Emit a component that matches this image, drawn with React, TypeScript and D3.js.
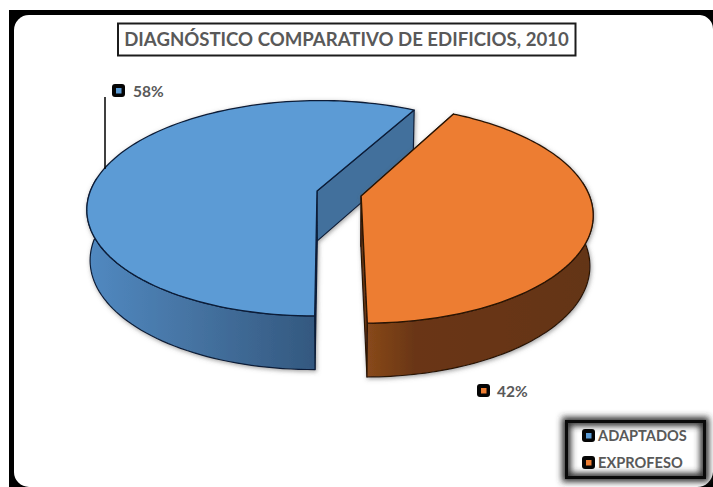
import React from "react";
import * as d3 from "d3";

// Share of buildings by origin, 2010
const chartTitle = "DIAGNÓSTICO COMPARATIVO DE EDIFICIOS, 2010";
const categories = ["ADAPTADOS", "EXPROFESO"];
const shares = [58, 42];

const topColors = ["#5b9bd5", "#ed7d31"];
const edgeColors = ["#0b1d38", "#2a1405"];
const cutColors = ["#436f9c", "#6b3814"];
const FONT = "Lato, 'Open Sans', sans-serif";
const TEXT = "#595959";

const WIDTH = 713;
const HEIGHT = 487;

// Perspective model of the tilted disc
const CX = 339;
const CY = 193.5;
const RADIUS = 227.5;
const TILT = 105.7;
const VANISH = 0.161;
const EXPLODE = 0.1;
const DEPTH = 50;
const FLOOR_X = 0.987;
const FLOOR_Y = 1.03;
const ROTATION = -0.007;

type Offset = { ex: number; ey: number };

const project = (X: number, Y: number, floor: boolean) => {
  const w = 1 + VANISH * Y;
  const x = (RADIUS * X) / w;
  const y = (-TILT * Y) / w;
  return floor
    ? ([CX + x * FLOOR_X, CY + y * FLOOR_Y + DEPTH] as [number, number])
    : ([CX + x, CY + y] as [number, number]);
};

const rimPoint = (angle: number, o: Offset, floor: boolean) =>
  project(Math.sin(angle) + o.ex, Math.cos(angle) + o.ey, floor);
const apexPoint = (o: Offset, floor: boolean) => project(o.ex, o.ey, floor);

const sweep = (a0: number, a1: number) =>
  d3.range(0, 121).map((i) => a0 + ((a1 - a0) * i) / 120);

const pathOf = d3.line<[number, number]>();
const closed = (pts: [number, number][]) => pathOf(pts) + "Z";

const arcs = d3
  .pie<number>()
  .sort(null)
  .startAngle(Math.PI + ROTATION)
  .endAngle(3 * Math.PI + ROTATION)(shares);

const Marker = ({ x, y, color }: { x: number; y: number; color: string }) => (
  <g>
    <rect x={x} y={y} width={13} height={13} rx={3} fill="#050505" />
    <rect x={x + 4} y={y + 4} width={5.5} height={5.5} fill={color} />
  </g>
);

const Slice = ({ index }: { index: number }) => {
  const a = arcs[index];
  const mid = (a.startAngle + a.endAngle) / 2;
  const o: Offset = { ex: EXPLODE * Math.sin(mid), ey: EXPLODE * Math.cos(mid) };
  const angles = sweep(a.startAngle, a.endAngle);
  const topRim = angles.map((t) => rimPoint(t, o, false));

  // The outer wall only shows on the near half of the disc
  const near = angles.filter((t) => Math.cos(t) < 0.15);
  const wall = [
    ...near.map((t) => rimPoint(t, o, false)),
    ...near.slice().reverse().map((t) => rimPoint(t, o, true)),
  ];
  const cut = (t: number) => [
    apexPoint(o, false),
    rimPoint(t, o, false),
    rimPoint(t, o, true),
    apexPoint(o, true),
  ];
  const top = [apexPoint(o, false), ...topRim];
  const stroke = edgeColors[index];

  return (
    <g filter="url(#softShadow)" strokeLinejoin="round">
      <path d={closed(cut(a.startAngle))} fill={cutColors[index]} stroke={stroke} strokeWidth={1.2} />
      <path d={closed(cut(a.endAngle))} fill={cutColors[index]} stroke={stroke} strokeWidth={1.2} />
      <path d={closed(wall)} fill={`url(#wall${index})`} stroke={stroke} strokeWidth={1.2} />
      <path d={closed(top)} fill={topColors[index]} stroke={stroke} strokeWidth={1.3} />
    </g>
  );
};

export default function App() {
  return (
    <svg
      width={WIDTH}
      height={HEIGHT}
      viewBox={`0 0 ${WIDTH} ${HEIGHT}`}
      style={{ position: "absolute", left: 0, top: 0, display: "block" }}
    >
      <defs>
        <linearGradient id="wall0" gradientUnits="userSpaceOnUse" x1={88} x2={316} y1={0} y2={0}>
          <stop offset="0" stopColor="#5189c1" />
          <stop offset="0.5" stopColor="#44719f" />
          <stop offset="1" stopColor="#33587f" />
        </linearGradient>
        <linearGradient id="wall1" gradientUnits="userSpaceOnUse" x1={364} x2={592} y1={0} y2={0}>
          <stop offset="0" stopColor="#8a4a1b" />
          <stop offset="0.22" stopColor="#6a3613" />
          <stop offset="1" stopColor="#643413" />
        </linearGradient>
        <filter id="softShadow" x="-5%" y="-5%" width="110%" height="110%">
          <feDropShadow dx={1} dy={1.5} stdDeviation={2} floodColor="#555" floodOpacity={0.55} />
        </filter>
        <filter id="legendGlow" x="-15%" y="-30%" width="130%" height="160%">
          <feGaussianBlur stdDeviation={3} />
        </filter>
      </defs>

      <rect x={0} y={0} width={WIDTH} height={HEIGHT} fill="#fff" />
      <rect x={9} y={10} width={WIDTH} height={HEIGHT} fill="#000" />
      <rect x={14} y={15} width={WIDTH} height={472} rx={15} fill="#fff" />
      <path d="M700 15 H713 V29 A14 14 0 0 0 700 15Z" fill="#000" />
      <path d="M713 472 V487 H697 A16 16 0 0 0 713 472Z" fill="#000" />

      <rect x={118} y={23.5} width={457.5} height={32} fill="#fff" stroke="#1c1c1c" strokeWidth={2} />
      <text
        x={346.5}
        y={46}
        textAnchor="middle"
        fontFamily={FONT}
        fontWeight={700}
        fontSize={18.6}
        fill={TEXT}
      >
        {chartTitle}
      </text>

      {arcs.map((_, i) => (
        <Slice key={categories[i]} index={i} />
      ))}

      <line x1={105} y1={97} x2={105} y2={169} stroke="#000" strokeWidth={1.5} />

      <Marker x={112} y={84} color={topColors[0]} />
      <text x={133} y={97} fontFamily={FONT} fontWeight={700} fontSize={15.5} fill={TEXT}>
        {`${shares[0]}%`}
      </text>
      <Marker x={477} y={384} color={topColors[1]} />
      <text x={497} y={397} fontFamily={FONT} fontWeight={700} fontSize={15.5} fill={TEXT}>
        {`${shares[1]}%`}
      </text>

      <rect x={566.5} y={421.5} width={138} height={56} fill="none" stroke="#333" strokeWidth={9} filter="url(#legendGlow)" />
      <rect x={566.5} y={421.5} width={138} height={56} fill="none" stroke="#0a0a0a" strokeWidth={3} />
      {categories.map((c, i) => (
        <g key={c}>
          <Marker x={582} y={429 + i * 27} color={topColors[i]} />
          <text x={598} y={441 + i * 27} fontFamily={FONT} fontWeight={700} fontSize={14.6} fill={TEXT}>
            {c}
          </text>
        </g>
      ))}
    </svg>
  );
}
